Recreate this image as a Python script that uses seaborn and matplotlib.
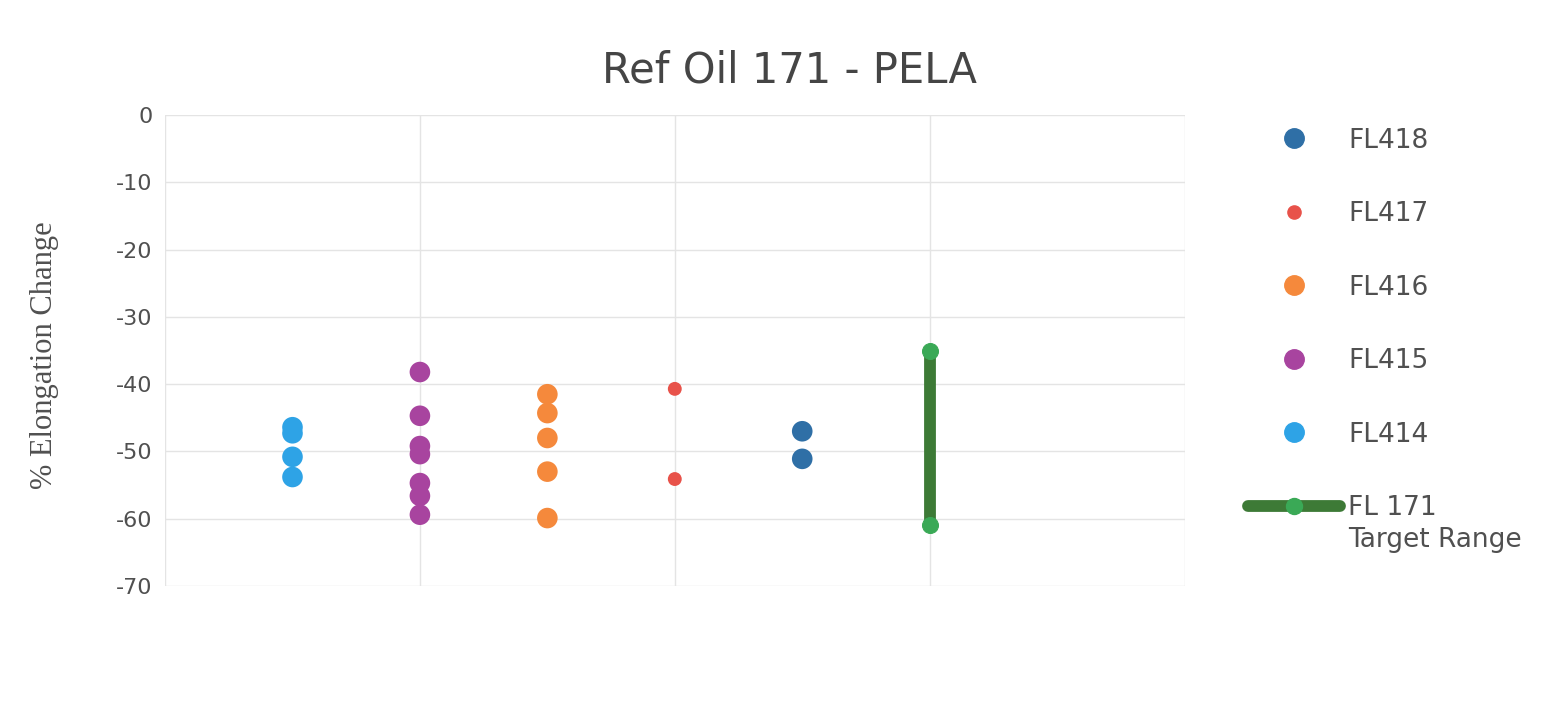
import matplotlib
matplotlib.use("Agg")
import matplotlib.pyplot as plt
from matplotlib.lines import Line2D
import seaborn as sns
import pandas as pd

# values
fl414 = [-46.4, -47.3, -50.8, -53.8]
fl415 = [-38.2, -44.7, -49.2, -50.4, -54.7, -56.6, -59.4]
fl416 = [-41.5, -44.3, -48.0, -53.0, -59.9]
fl417 = [-40.7, -54.1]
fl418 = [-47.0, -51.1]
fl171_range = [-35.0, -61.0]

series_names = ["FL414", "FL415", "FL416", "FL417", "FL418"]
series_vals = [fl414, fl415, fl416, fl417, fl418]
series_pos = [1, 2, 3, 4, 5]
target_pos = 6

colors = {
    "FL418": "#2f6fa6",
    "FL417": "#e8524a",
    "FL416": "#f5893c",
    "FL415": "#a8449f",
    "FL414": "#2ea3e6",
}
sizes = {"FL418": 220, "FL417": 100, "FL416": 220, "FL415": 220, "FL414": 220}
green_line = "#3d7a36"
green_dot = "#3aa956"

rows = []
for name, vals, pos in zip(series_names, series_vals, series_pos):
    for v in vals:
        rows.append({"x": pos, "value": v, "series": name})
df = pd.DataFrame(rows)
target_df = pd.DataFrame({"x": [target_pos] * len(fl171_range), "value": fl171_range})

sns.set_theme(style="whitegrid")
plt.rcParams["font.family"] = ["DejaVu Sans"]
plt.rcParams["axes.unicode_minus"] = False

fig = plt.figure(figsize=(15.66, 7.01), dpi=100)
ax = fig.add_axes([0.1054, 0.164, 0.651, 0.672])

sns.scatterplot(data=df, x="x", y="value", hue="series", palette=colors,
                size="series", sizes=sizes, linewidth=0, legend=False, ax=ax, zorder=3)
sns.lineplot(data=target_df, x="x", y="value", estimator=None, sort=False,
             color=green_line, linewidth=8.5, marker="o", markersize=11.5,
             markerfacecolor=green_dot, markeredgecolor=green_dot,
             legend=False, ax=ax, zorder=3)

ax.set_xlim(0, 8)
ax.set_ylim(-70, 0)
ax.set_xticks([0, 2, 4, 6, 8])
ax.set_xticklabels([])
ax.set_yticks(range(-70, 1, 10))
ax.tick_params(axis="both", length=0)
ax.tick_params(axis="y", labelsize=16, labelcolor="#505050", pad=9)
ax.grid(True, color="#e4e4e4", linewidth=1)
for s in ax.spines.values():
    s.set_visible(False)
ax.set_xlabel("")
ax.set_ylabel("% Elongation Change", family=["Liberation Serif", "DejaVu Serif"],
              fontsize=22, color="#505050")
ax.yaxis.set_label_coords(-0.104, 0.49)

fig.text(0.504, 0.900, "Ref Oil 171 - PELA", ha="center", va="center",
         fontsize=30, color="#454545")

handles = []
labels = ["FL418", "FL417", "FL416", "FL415", "FL414"]
for name in labels:
    ms = 14 if name != "FL417" else 9.5
    handles.append(Line2D([], [], linestyle="none", marker="o", markersize=ms,
                          markerfacecolor=colors[name], markeredgecolor=colors[name]))
handles.append(Line2D([], [], color=green_line, linewidth=8.5, marker="o",
                      markersize=11.5, markerfacecolor=green_dot, markeredgecolor=green_dot))
labels.append("FL 171")

leg = fig.legend(handles, labels, loc="upper left", bbox_to_anchor=(0.797, 0.818),
                 frameon=False, fontsize=19, handlelength=3.5, handletextpad=0.3,
                 labelspacing=1.8, borderpad=0, borderaxespad=0)
for t in leg.get_texts():
    t.set_color("#505050")
fig.text(0.861, 0.229, "Target Range", ha="left", va="center",
         fontsize=19, color="#505050")

fig.savefig("out.png", dpi=100)
